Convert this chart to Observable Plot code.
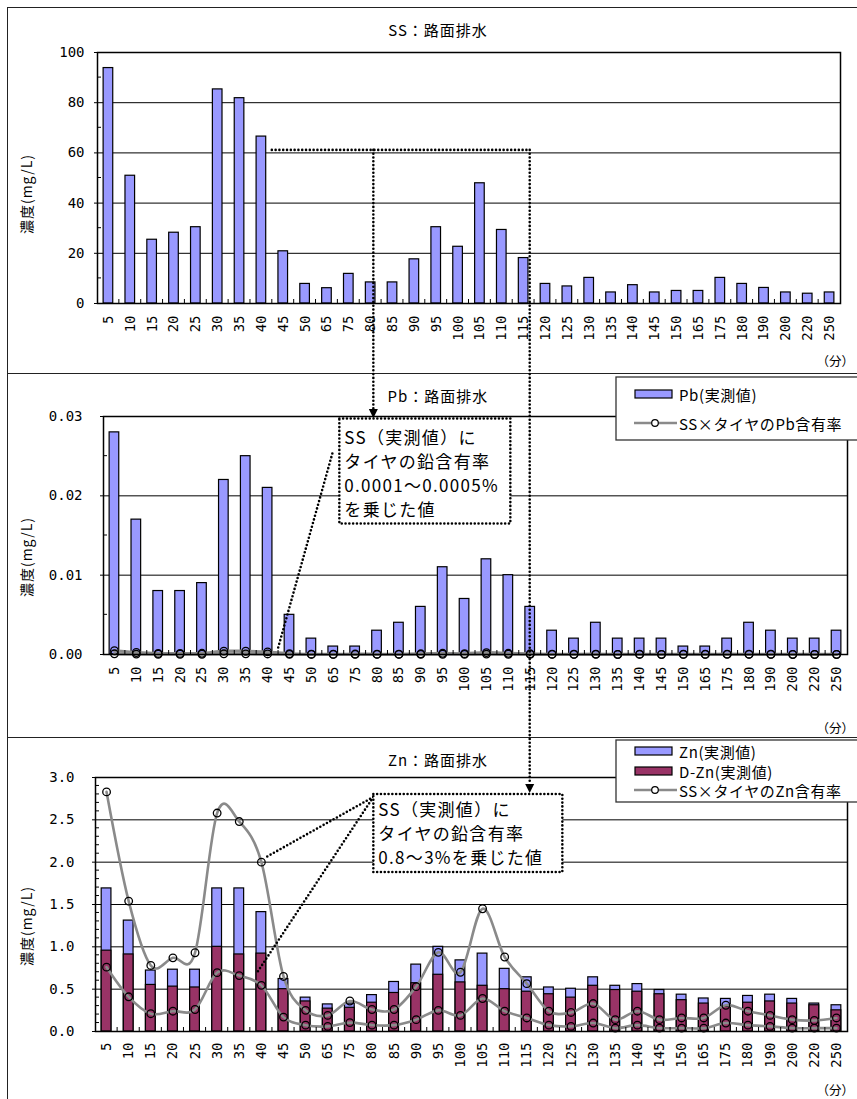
<!DOCTYPE html>
<html>
<head>
<meta charset="utf-8">
<script src="https://cdn.jsdelivr.net/npm/d3@7"></script>
<script src="https://cdn.jsdelivr.net/npm/@observablehq/plot@0.6"></script>
<style>
  html, body { margin: 0; padding: 0; overflow: hidden; background: #fff; }
  body { width: 857px; height: 1099px; position: relative; font-family: "Noto Sans CJK JP", sans-serif; }
  .panel { position: absolute; left: 7px; width: 900px; border: 1.5px solid #222; box-sizing: border-box; }
  svg.chart { position: absolute; left: 0; }
</style>
</head>
<body>
<div class="panel" style="top:7px;height:367px"></div>
<div class="panel" style="top:373px;height:365px"></div>
<div class="panel" style="top:737px;height:400px"></div>
<script>
// Sampling times (minutes after the start of runoff)
const minutes = ["5","10","15","20","25","30","35","40","45","50","65","75","80","85","90","95","100","105","110","115","120","125","130","135","140","145","150","165","175","180","190","200","220","250"];

// SS concentration of road drainage (mg/L)
const ssValues = [93.8,50.9,25.4,28.2,30.4,85.3,81.8,66.5,20.8,7.8,6.1,11.8,8.4,8.4,17.6,30.4,22.6,47.9,29.3,18.1,7.8,6.8,10.2,4.4,7.3,4.4,5.0,5.0,10.2,7.8,6.2,4.4,3.9,4.4];

// Pb measured (mg/L)
const pbValues = [0.028,0.017,0.008,0.008,0.009,0.022,0.025,0.021,0.005,0.002,0.001,0.001,0.003,0.004,0.006,0.011,0.007,0.012,0.010,0.006,0.003,0.002,0.004,0.002,0.002,0.002,0.001,0.001,0.002,0.004,0.003,0.002,0.002,0.003];
// SS × tyre Pb content (0.0005% and 0.0001%)
const pbHigh = [0.00047,0.00025,0.00013,0.00014,0.00015,0.00043,0.00041,0.00033,0.00010,0.00004,0.00003,0.00006,0.00004,0.00004,0.00009,0.00015,0.00011,0.00024,0.00015,0.00009,0.00004,0.00003,0.00005,0.00002,0.00004,0.00002,0.00003,0.00003,0.00005,0.00004,0.00003,0.00002,0.00002,0.00002];
const pbLow = [0.00009,0.00005,0.00003,0.00003,0.00003,0.00009,0.00008,0.00007,0.00002,0.00001,0.00001,0.00001,0.00001,0.00001,0.00002,0.00003,0.00002,0.00005,0.00003,0.00002,0.00001,0.00001,0.00001,0.00000,0.00001,0.00000,0.00001,0.00001,0.00001,0.00001,0.00001,0.00000,0.00000,0.00000];

// Zn measured, total and dissolved (mg/L)
const znValues = [1.69,1.31,0.72,0.73,0.73,1.69,1.69,1.41,0.62,0.40,0.32,0.33,0.43,0.585,0.79,1.0,0.84,0.92,0.74,0.64,0.52,0.505,0.64,0.54,0.56,0.49,0.435,0.39,0.385,0.42,0.435,0.385,0.33,0.31];
const dznValues = [0.955,0.91,0.55,0.53,0.52,1.0,0.91,0.92,0.50,0.355,0.27,0.28,0.34,0.455,0.57,0.67,0.58,0.54,0.50,0.47,0.44,0.40,0.54,0.49,0.47,0.44,0.37,0.33,0.29,0.34,0.355,0.33,0.31,0.25];
// SS × tyre Zn content (3% and 0.8%)
const znHigh = [2.83,1.54,0.78,0.87,0.93,2.58,2.48,2.0,0.65,0.25,0.19,0.36,0.26,0.26,0.53,0.935,0.70,1.45,0.88,0.565,0.24,0.225,0.33,0.14,0.24,0.14,0.16,0.16,0.31,0.24,0.19,0.14,0.13,0.16];
const znLow = [0.76,0.41,0.21,0.24,0.26,0.695,0.66,0.545,0.17,0.075,0.06,0.105,0.075,0.075,0.14,0.25,0.19,0.39,0.24,0.16,0.075,0.06,0.10,0.04,0.075,0.04,0.04,0.04,0.10,0.075,0.06,0.04,0.04,0.04];

const rows = minutes.map((t, i) => ({
  t, ss: ssValues[i], pb: pbValues[i], pbHi: pbHigh[i], pbLo: pbLow[i],
  zn: znValues[i], dzn: dznValues[i], znHi: znHigh[i], znLo: znLow[i]
}));

const tickFont = '"DejaVu Sans Mono", monospace';
const jpFont = '"Noto Sans CJK JP", sans-serif';
const barBlue = "#9999ff";
const barPlum = "#993366";
const lineGray = "#8a8a8a";

const xScale = {type: "band", domain: minutes, paddingInner: 0.56, paddingOuter: 0.28, round: false};
const chartStyle = {background: "transparent", color: "#000", overflow: "visible"};
const xAxis = (pad) => Plot.axisX({tickRotate: -90, tickSize: 0, tickPadding: pad, fontSize: 14, fontFamily: tickFont, label: null});

// SS panel
const p1 = Plot.plot({
  width: 857, height: 373,
  marginLeft: 97, marginRight: 17, marginTop: 52, marginBottom: 70,
  style: chartStyle,
  x: xScale,
  y: {domain: [0, 100]},
  marks: [
    Plot.gridY([20, 40, 60, 80], {stroke: "#000", strokeOpacity: 1, strokeWidth: 1}),
    Plot.barY(rows, {x: "t", y: "ss", fill: barBlue, stroke: "#000", strokeWidth: 1.2}),
    Plot.frame({stroke: "#000", strokeWidth: 1.5}),
    Plot.axisY({ticks: [0, 20, 40, 60, 80, 100], tickSize: 3, tickPadding: 10, fontSize: 14, fontFamily: tickFont, label: null}),
    xAxis(12)
  ]
});

// Pb panel
const p2 = Plot.plot({
  width: 857, height: 364,
  marginLeft: 103, marginRight: 10, marginTop: 43, marginBottom: 83,
  style: chartStyle,
  x: xScale,
  y: {domain: [0, 0.03]},
  marks: [
    Plot.gridY([0.01, 0.02], {stroke: "#000", strokeOpacity: 1, strokeWidth: 1}),
    Plot.barY(rows, {x: "t", y: "pb", fill: barBlue, stroke: "#000", strokeWidth: 1.2}),
    Plot.line(rows, {x: "t", y: "pbLo", stroke: lineGray, strokeWidth: 3, curve: "cardinal"}),
    Plot.line(rows, {x: "t", y: "pbHi", stroke: lineGray, strokeWidth: 3, curve: "cardinal"}),
    Plot.dot(rows, {x: "t", y: "pbLo", r: 3.8, stroke: "#000", strokeWidth: 1.3, fill: "none"}),
    Plot.dot(rows, {x: "t", y: "pbHi", r: 3.8, stroke: "#000", strokeWidth: 1.3, fill: "none"}),
    Plot.frame({stroke: "#000", strokeWidth: 1.5}),
    Plot.axisY({ticks: [0, 0.01, 0.02, 0.03], tickFormat: d => d.toFixed(2), tickSize: 3, tickPadding: 18, fontSize: 14, fontFamily: tickFont, label: null}),
    xAxis(12)
  ]
});

// Zn panel
const p3 = Plot.plot({
  width: 857, height: 362,
  marginLeft: 95, marginRight: 10, marginTop: 40, marginBottom: 68,
  style: chartStyle,
  x: xScale,
  y: {domain: [0, 3]},
  marks: [
    Plot.gridY([0.5, 1, 1.5, 2, 2.5], {stroke: "#000", strokeOpacity: 1, strokeWidth: 1}),
    Plot.barY(rows, {x: "t", y: "zn", fill: barBlue, stroke: "#000", strokeWidth: 1.2}),
    Plot.barY(rows, {x: "t", y: "dzn", fill: barPlum, stroke: "#000", strokeWidth: 1.2}),
    Plot.line(rows, {x: "t", y: "znHi", stroke: lineGray, strokeWidth: 2.6, curve: "cardinal"}),
    Plot.line(rows, {x: "t", y: "znLo", stroke: lineGray, strokeWidth: 2.6, curve: "cardinal"}),
    Plot.dot(rows, {x: "t", y: "znHi", r: 3.8, stroke: "#000", strokeWidth: 1.3, fill: "none"}),
    Plot.dot(rows, {x: "t", y: "znLo", r: 3.8, stroke: "#000", strokeWidth: 1.3, fill: "none"}),
    Plot.frame({stroke: "#000", strokeWidth: 1.5}),
    Plot.axisY({ticks: [0, 0.5, 1, 1.5, 2, 2.5, 3], tickFormat: d => d.toFixed(1), tickSize: 3, tickPadding: 18, fontSize: 14, fontFamily: tickFont, label: null}),
    xAxis(11)
  ]
});

const panels = [
  {svg: p1, top: 0, minor: [10, 30, 50, 70, 90]},
  {svg: p2, top: 373, minor: [0.005, 0.015, 0.025]},
  {svg: p3, top: 737, minor: d3.range(1, 30).filter(k => k % 5).map(k => k / 10)}
];

for (const p of panels) {
  p.svg.classList.add("chart");
  p.svg.style.top = p.top + "px";
  document.body.appendChild(p.svg);
  // small inside ticks: category boundaries on x, minor steps on y
  const sx = p.svg.scale("x"), sy = p.svg.scale("y");
  const g = d3.select(p.svg).append("g").attr("stroke", "#000").attr("stroke-width", 1);
  const gap = sx.step - sx.bandwidth;
  const x0 = sx.range[0], y0 = sy.apply(0);
  for (let i = 1; i < minutes.length; i++) {
    const bx = sx.apply(minutes[i]) - gap / 2;
    g.append("line").attr("x1", bx).attr("x2", bx).attr("y1", y0).attr("y2", y0 - 4);
  }
  for (const v of p.minor) {
    const y = sy.apply(v);
    g.append("line").attr("x1", x0).attr("x2", x0 + 4).attr("y1", y).attr("y2", y);
  }
  p.sx = sx; p.sy = sy;
}

const center = (p, t) => p.sx.apply(t) + p.sx.bandwidth / 2;
const boundaryBefore = (p, t) => p.sx.apply(t) - (p.sx.step - p.sx.bandwidth) / 2;
const yAt = (p, v) => p.top + p.sy.apply(v);
const [P1, P2, P3] = panels;

// Overlay: titles, legends and callouts spanning the panels
const ov = d3.select("body").append("svg")
  .attr("width", 857).attr("height", 1099)
  .style("position", "absolute").style("left", "0").style("top", "0")
  .attr("font-family", jpFont);

const titles = [["SS：路面排水", 29], ["Pb：路面排水", 395], ["Zn：路面排水", 759]];
for (const [txt, y] of titles) {
  ov.append("text").attr("x", 438).attr("y", y).attr("text-anchor", "middle")
    .attr("dominant-baseline", "central").attr("font-size", 15).attr("letter-spacing", 1).text(txt);
}
for (const y of [194, 557, 926]) {
  ov.append("text").attr("transform", `translate(26,${y}) rotate(-90)`).attr("text-anchor", "middle")
    .attr("dominant-baseline", "central").attr("font-size", 14).attr("letter-spacing", 1).text("濃度(mg/L)");
}
for (const y of [360, 727, 1089]) {
  ov.append("text").attr("x", 854).attr("y", y).attr("text-anchor", "end")
    .attr("dominant-baseline", "central").attr("font-size", 12.5).text("（分）");
}

// Legends
function legend(top, h, items) {
  ov.append("rect").attr("x", 616).attr("y", top).attr("width", 260).attr("height", h)
    .attr("fill", "#fff").attr("stroke", "#333").attr("stroke-width", 1.3);
  for (const it of items) {
    if (it.type === "bar") {
      ov.append("rect").attr("x", 635).attr("y", it.y - 4).attr("width", 37).attr("height", 8)
        .attr("fill", it.fill).attr("stroke", "#000").attr("stroke-width", 1.2);
    } else {
      ov.append("line").attr("x1", 634).attr("x2", 677).attr("y1", it.y).attr("y2", it.y)
        .attr("stroke", lineGray).attr("stroke-width", 2.6);
      ov.append("circle").attr("cx", 655).attr("cy", it.y).attr("r", 3.3)
        .attr("fill", "#fff").attr("stroke", "#000").attr("stroke-width", 1.2);
    }
    ov.append("text").attr("x", 679).attr("y", it.y).attr("dominant-baseline", "central")
      .attr("font-size", 15).attr("letter-spacing", 0.6).text(it.label);
  }
}
legend(377, 63, [
  {type: "bar", fill: barBlue, y: 394, label: "Pb(実測値)"},
  {type: "line", y: 423, label: "SS×タイヤのPb含有率"}
]);
legend(740, 62, [
  {type: "bar", fill: barBlue, y: 751, label: "Zn(実測値)"},
  {type: "bar", fill: barPlum, y: 771, label: "D-Zn(実測値)"},
  {type: "line", y: 790, label: "SS×タイヤのZn含有率"}
]);

// Callouts
const dotted = sel => sel.attr("fill", "none").attr("stroke", "#000").attr("stroke-width", 2.6)
  .attr("stroke-linecap", "round").attr("stroke-dasharray", "0 3.8");
const seg = (x1, y1, x2, y2) => ov.append("line").attr("x1", x1).attr("y1", y1).attr("x2", x2).attr("y2", y2).call(dotted);
const arrow = (x, tip) => ov.append("path").attr("d", `M${x - 4.5},${tip - 9}L${x + 4.5},${tip - 9}L${x},${tip}Z`).attr("fill", "#000");

const ySS = yAt(P1, 61);
const xA = (center(P1, "80") + center(P2, "80")) / 2;
const xB = center(P2, "115");
const xStart = boundaryBefore(P1, "45");
seg(xStart, ySS, xB, ySS);

// Pb callout
const pbBox = {x: xA - 34, y: yAt(P2, 0.03) + 2.5, w: 171, h: 105};
seg(pbBox.x - 7, pbBox.y + 35, boundaryBefore(P2, "45"), yAt(P2, 0) - 6);
ov.append("rect").attr("x", pbBox.x).attr("y", pbBox.y).attr("width", pbBox.w).attr("height", pbBox.h)
  .attr("fill", "#fff");
ov.append("rect").attr("x", pbBox.x).attr("y", pbBox.y).attr("width", pbBox.w).attr("height", pbBox.h).call(dotted);
seg(xA, ySS, xA, pbBox.y - 9);
arrow(xA, pbBox.y - 0.5);
["SS（実測値）に", "タイヤの鉛含有率", "0.0001～0.0005%", "を乗じた値"].forEach((s, i) => {
  ov.append("text").attr("x", pbBox.x + 5).attr("y", pbBox.y + 18 + i * 24).attr("dominant-baseline", "central")
    .attr("font-size", 17).attr("letter-spacing", 1.3).text(s);
});

// Zn callout
const znBox = {x: xA, y: 794, w: 189, h: 78};
const c40hi = [center(P3, "40"), yAt(P3, znHigh[7])];
const c40lo = [center(P3, "40"), yAt(P3, znLow[7])];
seg(znBox.x, znBox.y + 3, c40hi[0] + 6, c40hi[1] - 5);
seg(znBox.x, znBox.y + 3, c40lo[0] - 4, c40lo[1] - 12);
ov.append("rect").attr("x", znBox.x).attr("y", znBox.y).attr("width", znBox.w).attr("height", znBox.h).attr("fill", "#fff");
ov.append("rect").attr("x", znBox.x).attr("y", znBox.y).attr("width", znBox.w).attr("height", znBox.h).call(dotted);
seg(xB, ySS, xB, znBox.y - 10);
arrow(xB, znBox.y - 1);
["SS（実測値）に", "タイヤの鉛含有率", "0.8～3%を乗じた値"].forEach((s, i) => {
  ov.append("text").attr("x", znBox.x + 5).attr("y", znBox.y + 14 + i * 24).attr("dominant-baseline", "central")
    .attr("font-size", 17).attr("letter-spacing", 1.3).text(s);
});
</script>
</body>
</html>
